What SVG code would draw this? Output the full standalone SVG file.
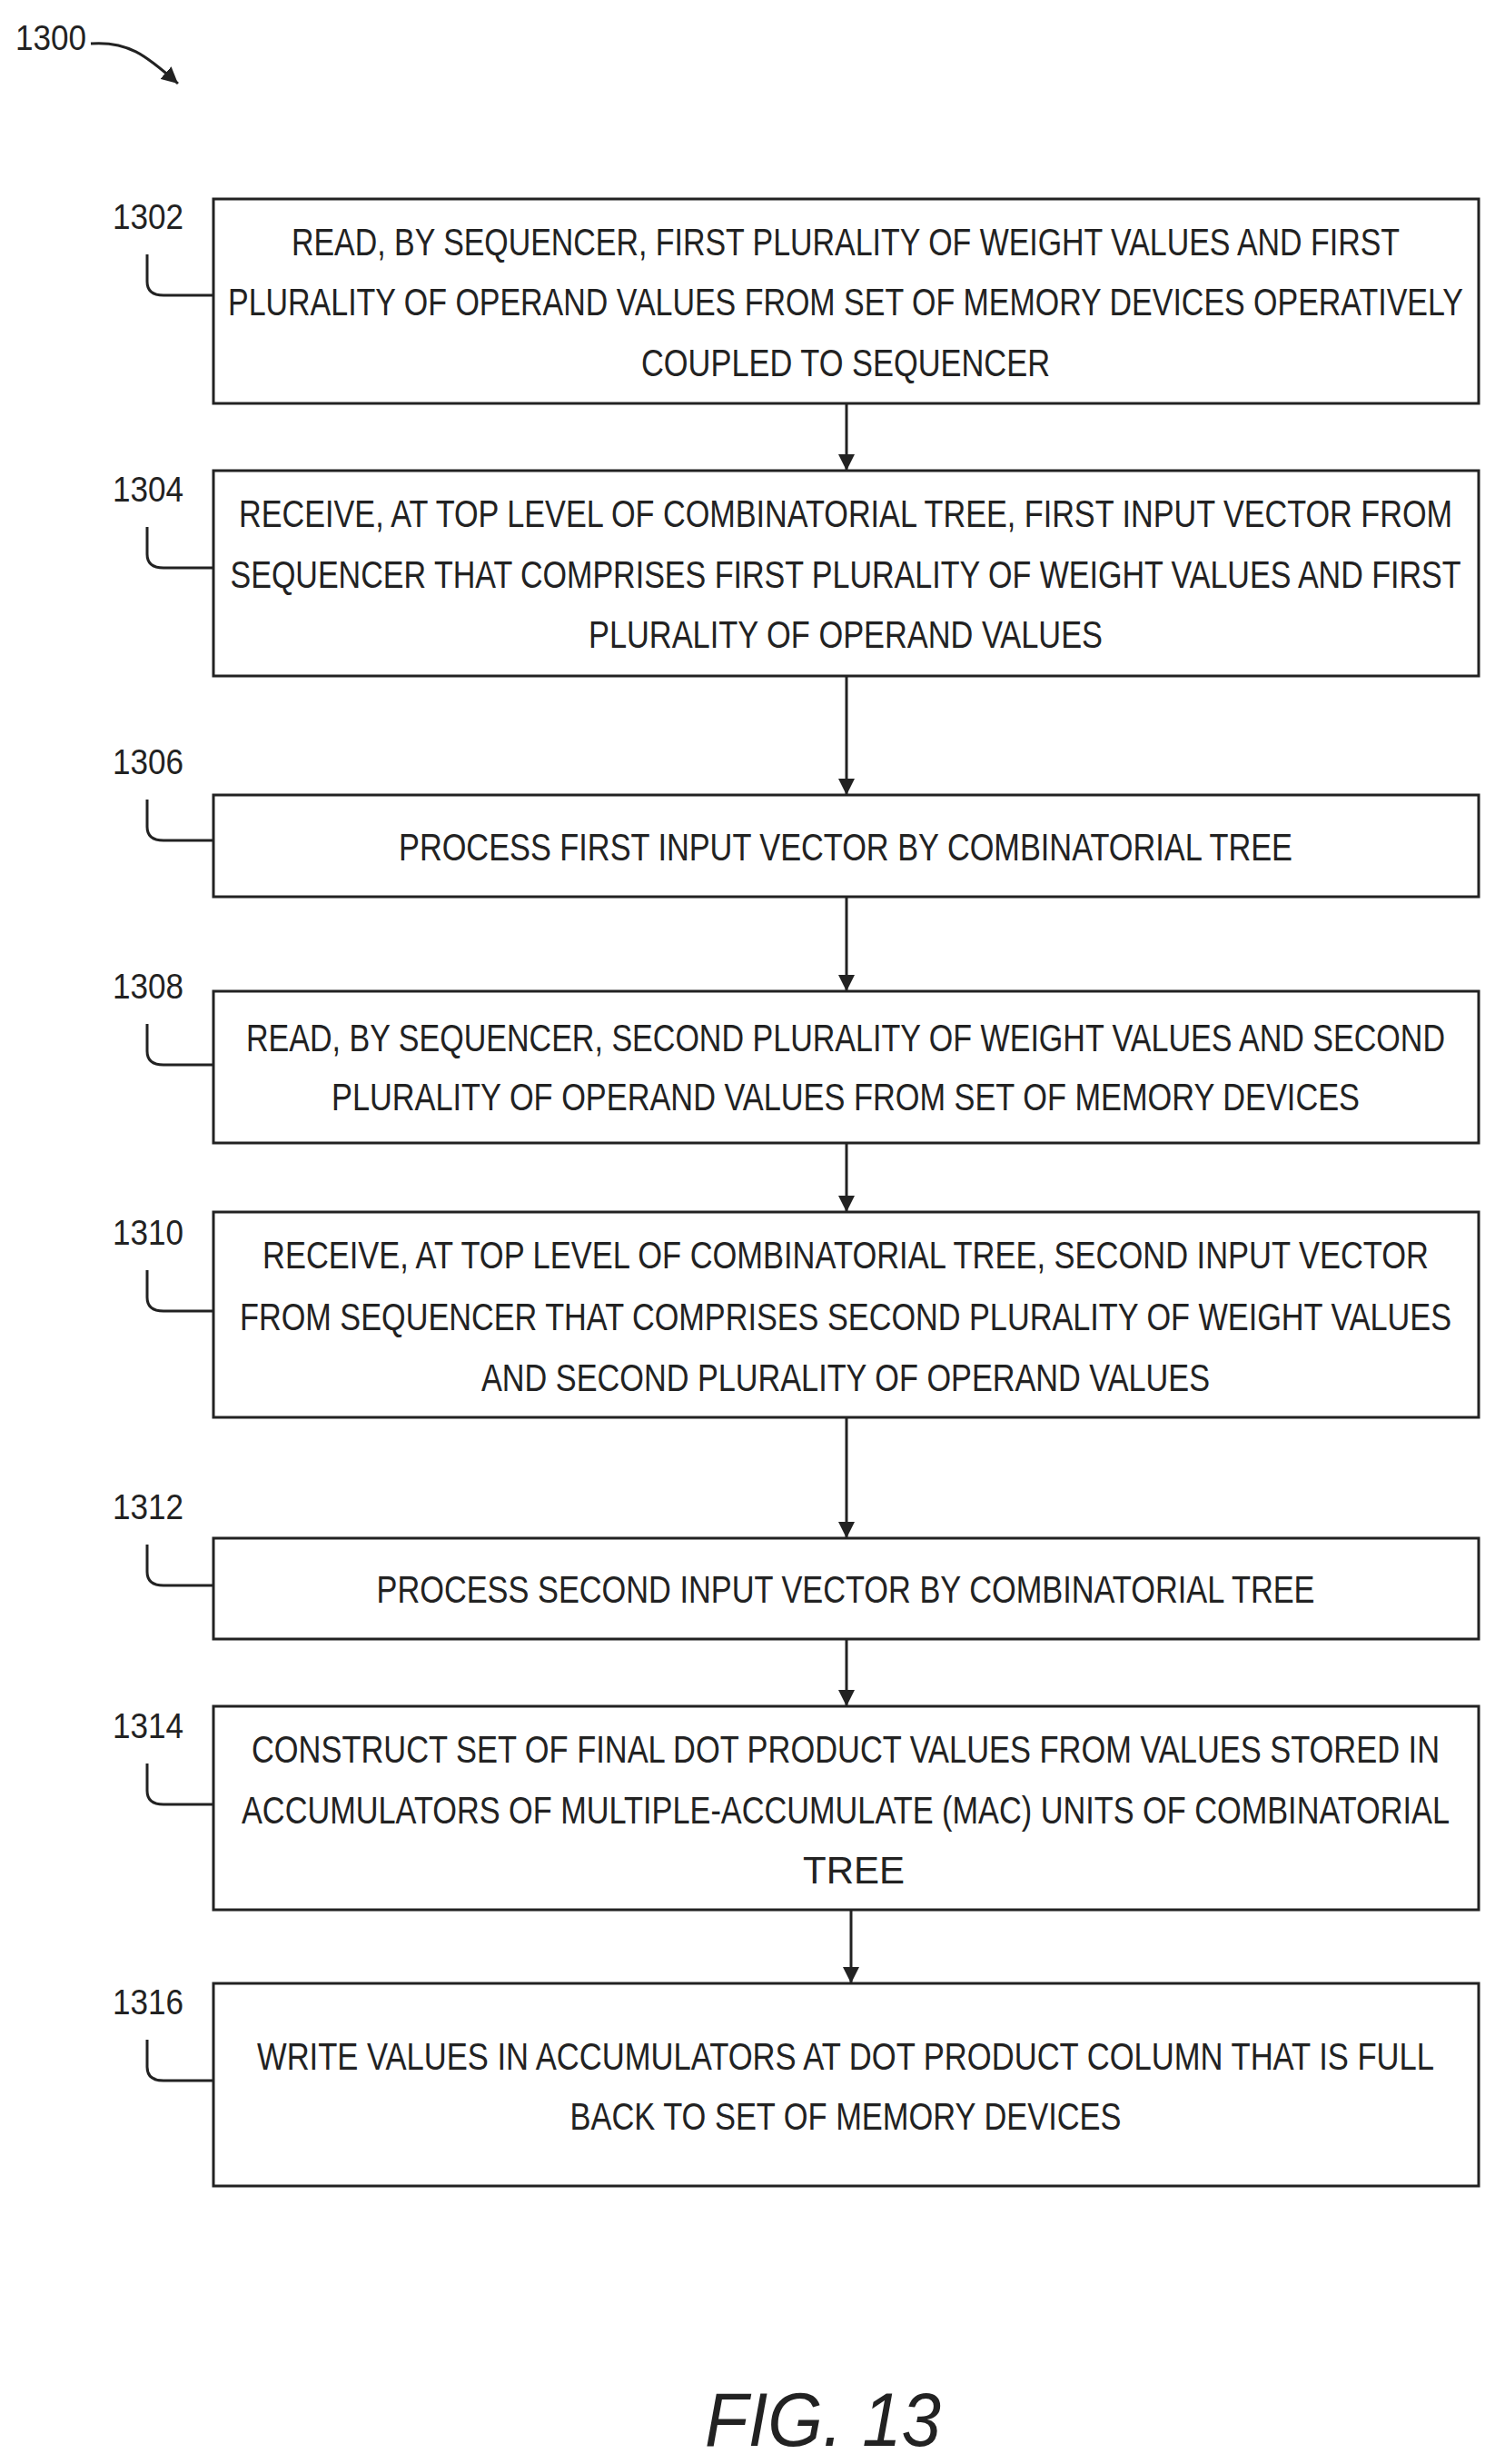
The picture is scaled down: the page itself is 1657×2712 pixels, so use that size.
<svg xmlns="http://www.w3.org/2000/svg" width="1657" height="2712" viewBox="0 0 1657 2712">
<style>
.b{fill:#fff;stroke:#222;stroke-width:3}
.t{font-family:"Liberation Sans",Arial,sans-serif;font-size:42px;fill:#222;text-anchor:middle}
.l{font-family:"Liberation Sans",Arial,sans-serif;font-size:38px;fill:#222}
.c{fill:none;stroke:#222;stroke-width:3}
</style>
<defs>
<marker id="ah" viewBox="0 0 10 10" refX="10" refY="5" markerWidth="6" markerHeight="6" orient="auto"><path d="M0,0L10,5L0,10z" fill="#222"/></marker></defs>
<rect width="1657" height="2712" fill="#fff"/>
<g id="n1300"><text class="l" x="17" y="55" textLength="78" lengthAdjust="spacingAndGlyphs">1300</text><path class="c" d="M100,48 C140,45 160,60 196,92" marker-end="url(#ah)"/></g>
<g id="connectors">
<line class="c" x1="932" y1="444" x2="932" y2="518" marker-end="url(#ah)"/>
<line class="c" x1="932" y1="744" x2="932" y2="875" marker-end="url(#ah)"/>
<line class="c" x1="932" y1="987" x2="932" y2="1091" marker-end="url(#ah)"/>
<line class="c" x1="932" y1="1258" x2="932" y2="1334" marker-end="url(#ah)"/>
<line class="c" x1="932" y1="1560" x2="932" y2="1693" marker-end="url(#ah)"/>
<line class="c" x1="932" y1="1804" x2="932" y2="1878" marker-end="url(#ah)"/>
<line class="c" x1="937" y1="2102" x2="937" y2="2183" marker-end="url(#ah)"/>
</g>
<g id="n1302"><rect class="b" x="235" y="219" width="1393" height="225"/>
<text class="t" x="931" y="281" textLength="1220" lengthAdjust="spacingAndGlyphs">READ, BY SEQUENCER, FIRST PLURALITY OF WEIGHT VALUES AND FIRST</text>
<text class="t" x="931" y="347" textLength="1360" lengthAdjust="spacingAndGlyphs">PLURALITY OF OPERAND VALUES FROM SET OF MEMORY DEVICES OPERATIVELY</text>
<text class="t" x="931" y="414" textLength="450" lengthAdjust="spacingAndGlyphs">COUPLED TO SEQUENCER</text>
<text class="l" x="124" y="252" textLength="78" lengthAdjust="spacingAndGlyphs">1302</text>
<path class="c" d="M162,280V310Q162,325 180,325H235"/></g>
<g id="n1304"><rect class="b" x="235" y="518" width="1393" height="226"/>
<text class="t" x="931" y="580" textLength="1336" lengthAdjust="spacingAndGlyphs">RECEIVE, AT TOP LEVEL OF COMBINATORIAL TREE, FIRST INPUT VECTOR FROM</text>
<text class="t" x="931" y="647" textLength="1355" lengthAdjust="spacingAndGlyphs">SEQUENCER THAT COMPRISES FIRST PLURALITY OF WEIGHT VALUES AND FIRST</text>
<text class="t" x="931" y="713" textLength="566" lengthAdjust="spacingAndGlyphs">PLURALITY OF OPERAND VALUES</text>
<text class="l" x="124" y="552" textLength="78" lengthAdjust="spacingAndGlyphs">1304</text>
<path class="c" d="M162,580V610Q162,625 180,625H235"/></g>
<g id="n1306"><rect class="b" x="235" y="875" width="1393" height="112"/>
<text class="t" x="931" y="947" textLength="984" lengthAdjust="spacingAndGlyphs">PROCESS FIRST INPUT VECTOR BY COMBINATORIAL TREE</text>
<text class="l" x="124" y="852" textLength="78" lengthAdjust="spacingAndGlyphs">1306</text>
<path class="c" d="M162,880V910Q162,925 180,925H235"/></g>
<g id="n1308"><rect class="b" x="235" y="1091" width="1393" height="167"/>
<text class="t" x="931" y="1157" textLength="1320" lengthAdjust="spacingAndGlyphs">READ, BY SEQUENCER, SECOND PLURALITY OF WEIGHT VALUES AND SECOND</text>
<text class="t" x="931" y="1222" textLength="1132" lengthAdjust="spacingAndGlyphs">PLURALITY OF OPERAND VALUES FROM SET OF MEMORY DEVICES</text>
<text class="l" x="124" y="1099" textLength="78" lengthAdjust="spacingAndGlyphs">1308</text>
<path class="c" d="M162,1127V1157Q162,1172 180,1172H235"/></g>
<g id="n1310"><rect class="b" x="235" y="1334" width="1393" height="226"/>
<text class="t" x="931" y="1396" textLength="1284" lengthAdjust="spacingAndGlyphs">RECEIVE, AT TOP LEVEL OF COMBINATORIAL TREE, SECOND INPUT VECTOR</text>
<text class="t" x="931" y="1464" textLength="1334" lengthAdjust="spacingAndGlyphs">FROM SEQUENCER THAT COMPRISES SECOND PLURALITY OF WEIGHT VALUES</text>
<text class="t" x="931" y="1531" textLength="802" lengthAdjust="spacingAndGlyphs">AND SECOND PLURALITY OF OPERAND VALUES</text>
<text class="l" x="124" y="1370" textLength="78" lengthAdjust="spacingAndGlyphs">1310</text>
<path class="c" d="M162,1398V1428Q162,1443 180,1443H235"/></g>
<g id="n1312"><rect class="b" x="235" y="1693" width="1393" height="111"/>
<text class="t" x="931" y="1764" textLength="1033" lengthAdjust="spacingAndGlyphs">PROCESS SECOND INPUT VECTOR BY COMBINATORIAL TREE</text>
<text class="l" x="124" y="1672" textLength="78" lengthAdjust="spacingAndGlyphs">1312</text>
<path class="c" d="M162,1700V1730Q162,1745 180,1745H235"/></g>
<g id="n1314"><rect class="b" x="235" y="1878" width="1393" height="224"/>
<text class="t" x="931" y="1940" textLength="1308" lengthAdjust="spacingAndGlyphs">CONSTRUCT SET OF FINAL DOT PRODUCT VALUES FROM VALUES STORED IN</text>
<text class="t" x="931" y="2007" textLength="1330" lengthAdjust="spacingAndGlyphs">ACCUMULATORS OF MULTIPLE-ACCUMULATE (MAC) UNITS OF COMBINATORIAL</text>
<text class="t" x="940" y="2073">TREE</text>
<text class="l" x="124" y="1913" textLength="78" lengthAdjust="spacingAndGlyphs">1314</text>
<path class="c" d="M162,1941V1971Q162,1986 180,1986H235"/></g>
<g id="n1316"><rect class="b" x="235" y="2183" width="1393" height="223"/>
<text class="t" x="931" y="2278" textLength="1296" lengthAdjust="spacingAndGlyphs">WRITE VALUES IN ACCUMULATORS AT DOT PRODUCT COLUMN THAT IS FULL</text>
<text class="t" x="931" y="2344" textLength="607" lengthAdjust="spacingAndGlyphs">BACK TO SET OF MEMORY DEVICES</text>
<text class="l" x="124" y="2217" textLength="78" lengthAdjust="spacingAndGlyphs">1316</text>
<path class="c" d="M162,2245V2275Q162,2290 180,2290H235"/></g>
<g id="fig"><text x="906" y="2692" text-anchor="middle" font-family="Liberation Sans,Arial,sans-serif" font-style="italic" font-size="84" fill="#222" textLength="260" lengthAdjust="spacingAndGlyphs">FIG. 13</text></g>
</svg>
